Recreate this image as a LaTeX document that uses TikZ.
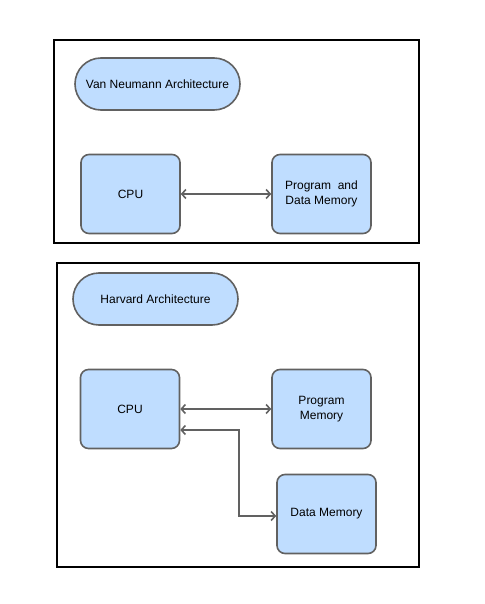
\documentclass[tikz,border=0pt]{standalone}
\usepackage{fontspec}
\setmainfont{Liberation Sans}
\usepackage{xcolor}
\usepackage{tikz}
\usetikzlibrary{arrows.meta}
\definecolor{boxfill}{RGB}{191, 221, 255}
\definecolor{boxline}{RGB}{97, 97, 97}

\begin{document}
\begin{tikzpicture}[x=1pt,y=-1pt,
    every node/.style={font=\fontsize{12}{15}\selectfont},
    block/.style={draw=boxline,fill=boxfill,line width=1.6pt,rounded corners=8pt,
      minimum width=99pt,minimum height=79pt,align=center,inner sep=2pt},
    title/.style={draw=boxline,fill=boxfill,line width=1.6pt,rounded corners=26pt,
      minimum width=165pt,minimum height=52pt,inner sep=2pt},
    link/.style={draw=boxline,line width=1.6pt,{Straight Barb[length=4pt,width=9pt]}-{Straight Barb[length=4pt,width=9pt]}}]
  \useasboundingbox (0,0) rectangle (484,604);
  \draw[line width=2pt] (54,40) rectangle (419,243);
  \draw[line width=2pt] (57,263) rectangle (419,567);
  % Van Neumann
  \node[title] (vn) at (157.5,84) {Van Neumann Architecture};
  \node[block] (cpu1) at (130.5,194) {CPU};
  \node[block] (pdm) at (321.5,194) {Program~~and\\Data Memory};
  \path (cpu1) edge[link] (pdm);
  % Harvard
  \node[title] (hv) at (155.5,299) {Harvard Architecture};
  \node[block] (cpu2) at (130,409) {CPU};
  \node[block] (pmem) at (321.5,409) {Program\\Memory};
  \node[block] (dmem) at (326.5,514) {Data Memory};
  \path (cpu2) edge[link] (pmem);
  \coordinate (h1) at (239,430);
  \coordinate (h2) at (239,516);
  \draw[link] (h1 -| cpu2.east) -- (h1) -- (h2) -- (h2 -| dmem.west);
\end{tikzpicture}
\end{document}
